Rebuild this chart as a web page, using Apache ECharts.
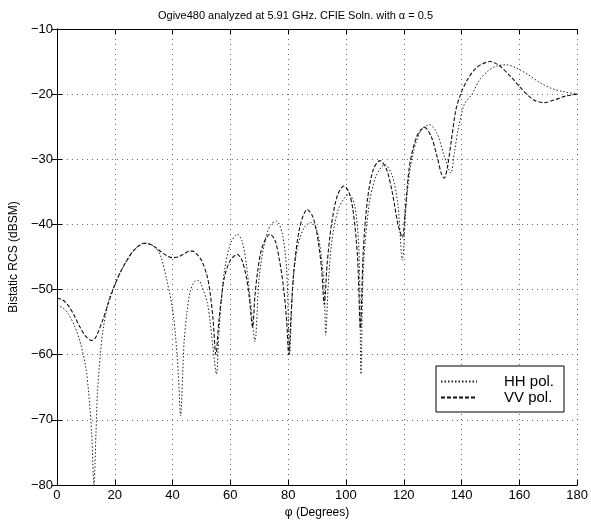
<!doctype html>
<html>
<head>
	<meta charset="utf-8">
	<title>Ogive480 bistatic RCS</title>
	<script src="https://cdn.jsdelivr.net/npm/echarts@6/dist/echarts.min.js"></script>
	<style>
		html, body {margin:0;padding:0;background:#fff;}
		#main {width:591px;height:524px;}
	</style>
</head>
<body>
	<div id="main"></div>
<script>
	"use strict";
	// x tick labels / y tick labels
	var degTicks = [0, 20, 40, 60, 80, 100, 120, 140, 160, 180];
	var rcsTicks = [-80, -70, -60, -50, -40, -30, -20, -10];

	// HH pol. : [phi (deg), RCS (dBSM)]
	var hhData = [
		[0,-52.4],[2,-52.8],[4,-53.8],[6,-55.5],[8,-58],[10,-62],[11,-66],[12,-72],[12.8,-80],[13.5,-72],
		[14,-66],[15,-60],[16,-56],[18,-51.5],[20,-49.3],[22,-47.3],[24,-45.6],[26,-44.3],[28,-43.4],[30,-42.9],
		[32,-43],[34,-43.5],[36,-45],[38,-48.5],[40,-53],[41,-57],[42,-63],[42.8,-69.4],[43.5,-63],[44,-58],
		[45,-53.5],[46,-50.5],[47.5,-48.8],[49,-48.6],[50,-49.3],[52,-52],[53,-55],[54,-59],[55.2,-63],[56,-57],
		[57,-51],[58,-47],[60,-43],[62.4,-41.5],[64,-42.5],[65.5,-46],[67,-52],[68.5,-58],[70,-48],[72,-42.5],
		[74,-40],[76,-39.5],[78,-41.5],[79.5,-47],[80.5,-60],[81.5,-50],[83,-44],[85.5,-40.5],[88,-39.7],[90,-41],
		[91.5,-45],[92.5,-50],[93,-57],[93.8,-50],[95,-43],[97.5,-37.5],[101,-35.4],[103,-37],[104.5,-44],[105.2,-63],
		[106,-47],[108,-37],[110.5,-32.5],[113.5,-30.8],[116,-32.5],[118,-37],[119.5,-45.5],[121,-36],[123,-29.5],[126,-25.5],
		[128.9,-24.7],[131.5,-26],[134,-29.5],[136.3,-32.1],[137.5,-29],[139,-25],[141,-21.5],[143.6,-20],[146,-18],[149,-16.5],
		[152,-15.7],[155.6,-15.5],[159,-16],[163,-17],[167,-18.2],[171,-19.1],[175,-19.6],[180,-20]
	];

	// VV pol. : [phi (deg), RCS (dBSM)]
	var vvData = [
		[0,-51.3],[2,-51.6],[4,-52.5],[6,-54],[8,-55.8],[10,-57.2],[12,-57.8],[13,-57.6],[14,-56.8],[16,-54.5],
		[18,-51.8],[20,-49.3],[22,-47.3],[24,-45.7],[26,-44.3],[28,-43.4],[30,-42.9],[32,-43],[34,-43.5],[36,-44.2],
		[38,-44.8],[40,-45.1],[42,-45],[44,-44.5],[46,-44.1],[47,-44.1],[48,-44.4],[50,-45.5],[52,-48],[53,-50.5],
		[54,-54.5],[55,-60],[56,-55],[57,-51],[58,-48],[60,-45.5],[62.4,-44.6],[64,-45.5],[65.5,-48],[66.5,-51],
		[67.7,-55.8],[68.5,-51],[69.5,-47],[71,-43.5],[73.7,-41.5],[75.5,-42.5],[77,-45.5],[78.5,-50],[79.5,-55],[80.2,-60],
		[81,-54],[82,-47],[84,-40.5],[86.6,-37.7],[88.5,-38.8],[90,-41.5],[91.5,-46.5],[92.5,-52.3],[93.5,-46],[95,-40],
		[97,-35.6],[99.3,-34.1],[101,-35],[102.5,-38],[104,-45],[105,-56],[106,-44],[107.5,-36],[109.5,-31.5],[111.8,-30.2],
		[114,-31.5],[116,-35],[118,-40],[119.5,-42],[120.5,-38],[122,-31],[124.5,-26.5],[127.2,-25.1],[129.5,-26.5],[131.5,-29.5],
		[133,-32.2],[134,-32.9],[135,-31.5],[136.5,-27],[138,-22.5],[139.7,-20],[142,-17.8],[145,-16],[148,-15.2],[150,-15],
		[153,-15.6],[157,-17.3],[161,-19.3],[165,-20.9],[168.7,-21.3],[172,-20.9],[176,-20.3],[180,-20]
	];

	var fontFam = "'Liberation Sans', Arial, sans-serif";
	var myChart = echarts.init(document.getElementById("main"));

	var tickSet = {inside:true, length:5, lineStyle:{color:'#000', width:1}};
	var gridLine = {show:true, lineStyle:{color:'#666', type:[1,4], width:1}};

	myChart.setOption({
		animation: false,
		backgroundColor: '#fff',
		title: {
			text: 'Ogive480 analyzed at 5.91 GHz. CFIE Soln. with \u03b1 = 0.5',
			left: 'center', top: 5,
			textStyle: {fontFamily: fontFam, fontSize: 11, fontWeight: 'normal', color: '#000'}
		},
		legend: {
			orient: 'vertical',
			left: 436, top: 366,
			padding: [8, 10, 7, 4],
			itemGap: 1,
			itemWidth: 36, itemHeight: 10,
			borderColor: '#000', borderWidth: 1,
			backgroundColor: '#fff',
			itemStyle: {opacity: 0},
			textStyle: {fontFamily: fontFam, fontSize: 15, color: '#000', padding: [0, 0, 0, 22]},
			data: ['HH pol.', 'VV pol.']
		},
		grid: {left: 52, right: 11, top: 29, bottom: 38},
		xAxis: [{
			type: 'value', min: 0, max: 180, interval: 20,
			name: '\u03c6 (Degrees)', nameLocation: 'middle', nameGap: 22,
			nameTextStyle: {fontFamily: fontFam, fontSize: 12, color: '#000'},
			axisLine: {lineStyle: {color: '#000'}},
			axisTick: tickSet,
			axisLabel: {fontFamily: fontFam, fontSize: 13, color: '#000', margin: 4,
				formatter: function (v) { return degTicks.indexOf(v) >= 0 ? v : ''; }},
			splitLine: gridLine
		}, {
			type: 'value', position: 'top', min: 0, max: 180, interval: 20,
			axisLine: {show: true, lineStyle: {color: '#000'}},
			axisTick: tickSet, axisLabel: {show: false}, splitLine: {show: false}
		}],
		yAxis: [{
			type: 'value', min: -80, max: -10, interval: 10,
			name: 'Bistatic RCS (dBSM)', nameLocation: 'middle', nameGap: 36,
			nameTextStyle: {fontFamily: fontFam, fontSize: 12, color: '#000'},
			axisLine: {show: true, lineStyle: {color: '#000'}},
			axisTick: tickSet,
			axisLabel: {fontFamily: fontFam, fontSize: 13, color: '#000', margin: 4,
				formatter: function (v) { return rcsTicks.indexOf(v) >= 0 ? '\u2212' + Math.abs(v) : ''; }},
			splitLine: gridLine
		}, {
			type: 'value', position: 'right', min: -80, max: -10, interval: 10,
			axisLine: {show: true, lineStyle: {color: '#000'}},
			axisTick: tickSet, axisLabel: {show: false}, splitLine: {show: false}
		}],
		series: [{
			name: 'HH pol.',
			type: 'line',
			data: hhData,
			symbol: 'none',
			smooth: 0.3,
			lineStyle: {color: '#222', width: 1, type: [1.5, 2]},
			itemStyle: {color: '#222'}
		}, {
			name: 'VV pol.',
			type: 'line',
			data: vvData,
			symbol: 'none',
			smooth: 0.3,
			lineStyle: {color: '#111', width: 1.1, type: [4, 2]},
			itemStyle: {color: '#111'}
		}]
	});
</script>
</body>
</html>
